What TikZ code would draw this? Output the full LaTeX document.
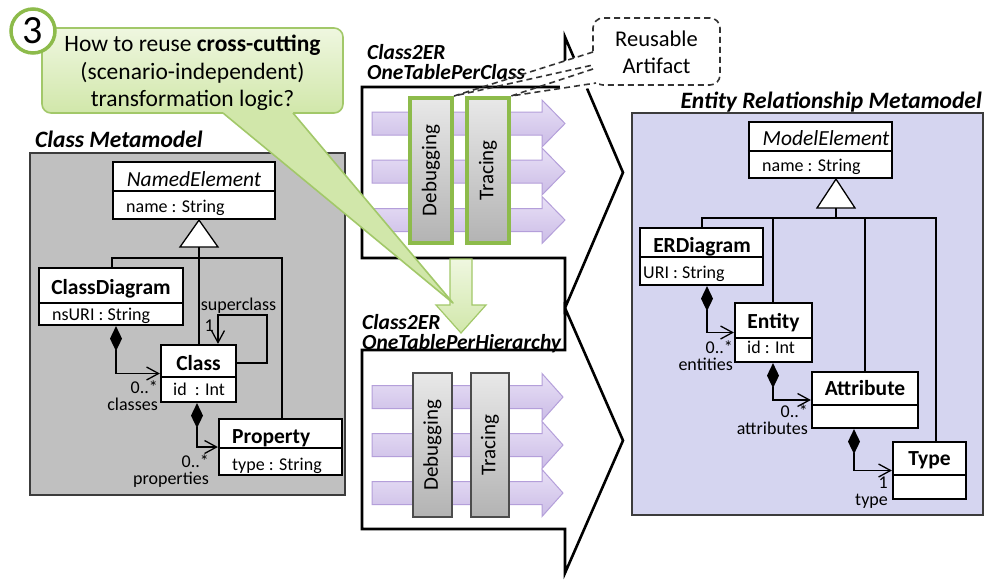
\documentclass[tikz,border=0pt]{standalone}
\usepackage{fontspec}
\setmainfont{Carlito}
\usetikzlibrary{arrows.meta,fit,calc}
\definecolor{panelgray}{HTML}{C0C0C0}
\definecolor{panellav}{HTML}{D5D5F0}
\definecolor{purtop}{HTML}{E8E0F6}
\definecolor{purbot}{HTML}{CBBCE6}
\definecolor{purdraw}{HTML}{B49FDA}
\definecolor{grnborder}{HTML}{8DBB4B}
\definecolor{grntop}{HTML}{EFF7E0}
\definecolor{grnbot}{HTML}{D1E7AA}
\definecolor{grnline}{HTML}{A2C869}
\definecolor{graytop}{HTML}{E8E8E8}
\definecolor{graybot}{HTML}{B3B3B3}
\definecolor{paneldraw}{HTML}{3C3C3C}
\newcommand\purparrow[2]{%
  \draw[purarrow] (372,#1-11.5) -- (542,#1-11.5) -- (542,#1-23.5) -- (#2,#1)
    -- (542,#1+23.5) -- (542,#1+11.5) -- (372,#1+11.5) -- cycle;}
\newcommand\twoR[3]{\fontsize{18}{#1}\selectfont\begin{tabular}[b]{@{}r@{}}#2\\#3\end{tabular}}
\newcommand\twoL[3]{\fontsize{21.5}{#1}\selectfont\begin{tabular}[b]{@{}l@{}}#2\\#3\end{tabular}}
\begin{document}
\begin{tikzpicture}[x=1pt,y=-1pt,
  panel/.style={draw=paneldraw,line width=2.2pt,inner sep=0pt},
  umlbox/.style={draw=black,line width=2.2pt,fill=white,inner sep=0pt},
  divline/.style={line width=2pt},
  ttl/.style={font=\fontsize{23.5}{26}\selectfont\bfseries\itshape,inner sep=0pt},
  cname/.style={font=\fontsize{21.5}{24}\selectfont\bfseries,inner sep=0pt,anchor=base},
  iname/.style={font=\fontsize{21.5}{24}\selectfont\itshape,inner sep=0pt,anchor=base},
  cattr/.style={font=\fontsize{18}{20}\selectfont,inner sep=0pt,anchor=base west},
  mult/.style={font=\fontsize{18}{20}\selectfont,inner sep=0pt,anchor=base east},
  tlabel/.style={font=\bfseries\itshape,inner sep=0pt,anchor=base west},
  vtext/.style={font=\fontsize{21}{22}\selectfont,rotate=90,inner sep=0pt},
  qtext/.style={font=\fontsize{23.5}{27}\selectfont,inner sep=0pt,anchor=base},
  ratext/.style={font=\fontsize{22.5}{26}\selectfont,inner sep=0pt,anchor=base},
  assoc/.style={line width=1.3pt},
  comp/.style={line width=1.3pt,arrows={Diamond[length=25pt,width=12pt]-Straight Barb[length=12pt,width=13pt]}},
  bigarrow/.style={draw=black,line width=2.6pt,fill=white},
  purarrow/.style={draw=purdraw,line width=1pt,top color=purtop,bottom color=purbot},
  dbgU/.style={draw=grnborder,line width=4pt,top color=graytop,bottom color=graybot,inner sep=0pt},
  dbgL/.style={draw=black!70,line width=1.2pt,top color=graytop,bottom color=graybot,inner sep=0pt},
  dashln/.style={draw=black!80,line width=1.6pt,dash pattern=on 6pt off 4pt}
]
\useasboundingbox (0,0) rectangle (987,582);
\fill[white] (0,0) rectangle (987,582);

% ---------- Class Metamodel ----------
\node[panel,fill=panelgray,fit={(30,153) (345,495)}] (cmp) {};
\node[ttl,anchor=base west] (cmpT) at (35,147) {Class Metamodel};

\node[umlbox,fit={(113,162) (275,219)}] (ne) {};
\draw[divline] (ne.west |- 0,191) -- (ne.east |- 0,191);
\node[iname] (neN) at (194,186) {NamedElement};
\node[cattr] (neA) at (126,212) {name : String};

\node[umlbox,fit={(39,268) (183,325)}] (cd) {};
\draw[divline] (cd.west |- 0,303) -- (cd.east |- 0,303);
\node[cname] (cdN) at (111,294) {ClassDiagram};
\node[cattr] (cdA) at (52,320) {nsURI : String};

\node[umlbox,fit={(161,345) (236,402)}] (cls) {};
\draw[divline] (cls.west |- 0,377) -- (cls.east |- 0,377);
\node[cname] (clsN) at (198.5,370) {Class};
\node[cattr] (clsA) at (173,395) {id~ : Int};

\node[umlbox,fit={(219,419) (342,475)}] (pr) {};
\draw[divline] (pr.west |- 0,448) -- (pr.east |- 0,448);
\node[cname,anchor=base west] (prN) at (232,443) {Property};
\node[cattr] (prA) at (232,470) {type : String};

% generalization
\draw[assoc,fill=white] (199,0 |- ne.south) -- (218,247) -- (180,247) -- cycle;
\coordinate (gC) at (199,247);
\draw[assoc] (gC) -- (199,0 |- cls.north);
\draw[assoc] (112,0 |- cd.north) |- (282,258) -- (282,0 |- pr.north);
% superclass loop
\draw[assoc,arrows={-Straight Barb[length=12pt,width=13pt]}]
  (cls.east |- 0,363) -- (267,363) -- (267,315) -- (218,315) -- (218,0 |- cls.north);
\node[mult,anchor=base] (scL) at (238.5,310) {superclass};
\node[mult] (sc1) at (214,331) {1};
% compositions
\draw[comp] (116,0 |- cd.south) |- (cls.west);
\node[mult] (m1) at (158,410) {\twoR{14}{0..*}{classes}};
\draw[comp] (197,0 |- cls.south) |- (pr.west);
\node[mult] (m2) at (209,484) {\twoR{15}{0..*}{properties}};

% ---------- ER Metamodel ----------
\node[panel,fill=panellav,fit={(632,113) (983,515)}] (erp) {};
\node[ttl,anchor=base east] (erpT) at (982,108) {Entity Relationship Metamodel};

\node[umlbox,fit={(749,122) (892,178)}] (me) {};
\draw[divline] (me.west |- 0,151) -- (me.east |- 0,151);
\node[iname] (meN) at (826,145) {ModelElement};
\node[cattr] (meA) at (762,171) {name : String};

\node[umlbox,fit={(640,228) (763,285)}] (erd) {};
\draw[divline] (erd.west |- 0,257) -- (erd.east |- 0,257);
\node[cname] (erdN) at (702,252) {ERDiagram};
\node[cattr] (erdA) at (643,278) {URI : String};

\node[umlbox,fit={(735,303) (812,362)}] (en) {};
\draw[divline] (en.west |- 0,338) -- (en.east |- 0,338);
\node[cname] (enN) at (773.5,328) {Entity};
\node[cattr] (enA) at (747,353) {id : Int};

\node[umlbox,fit={(812,372) (918,428)}] (at) {};
\draw[divline] (at.west |- 0,405) -- (at.east |- 0,405);
\node[cname] (atN) at (865,395) {Attribute};

\node[umlbox,fit={(893,442) (966,499)}] (ty) {};
\draw[divline] (ty.west |- 0,475) -- (ty.east |- 0,475);
\node[cname] (tyN) at (929.5,465) {Type};

% generalization
\draw[assoc,fill=white] (836,0 |- me.south) -- (855,208) -- (817,208) -- cycle;
\coordinate (gE) at (836,208);
\draw[assoc] (gE) -- (836,218);
\draw[assoc] (702,0 |- erd.north) |- (936,218) -- (936,0 |- ty.north);
\draw[assoc] (773,218) -- (773,0 |- en.north);
\draw[assoc] (865,218) -- (865,0 |- at.north);
% compositions
\draw[comp] (707,0 |- erd.south) |- (en.west);
\node[mult] (m3) at (733,370) {\twoR{15}{0..*}{entities}};
\draw[comp] (773,0 |- en.south) |- (at.west);
\node[mult] (m4) at (808,434) {\twoR{15}{0..*}{attributes}};
\draw[comp] (854,0 |- at.south) |- (ty.west);
\node[mult] (m5) at (888,505) {\twoR{15.5}{1}{type}};

% ---------- transformations ----------
\draw[bigarrow] (362,87) -- (565,87) -- (565,37) -- (623,172.5) -- (565,308)
  -- (565,258) -- (362,258) -- cycle;
\draw[bigarrow] (362,350) -- (565,350) -- (565,308) -- (623,440.5) -- (565,573)
  -- (565,529) -- (362,529) -- cycle;
\node[tlabel] (t1) at (367,79.5) {\twoL{17}{Class2ER}{OneTablePerClass}};
\node[tlabel] (t2) at (362,349) {\twoL{15}{Class2ER}{OneTablePerHierarchy}};

\purparrow{123.5}{565}
\purparrow{171.5}{565}
\purparrow{220}{565}
\purparrow{397}{563}
\purparrow{445}{563}
\purparrow{493}{563}

\node[dbgU,fit={(410,98) (452,243)}] (dbg1) {};
\node[vtext] (dbg1T) at (dbg1.center) {Debugging};
\node[dbgU,fit={(467,98) (509,243)}] (tr1) {};
\node[vtext] (tr1T) at (tr1.center) {Tracing};
\node[dbgL,fit={(413,373) (452,517)}] (dbg2) {};
\node[vtext] (dbg2T) at (dbg2.center) {Debugging};
\node[dbgL,fit={(471,373) (509,517)}] (tr2) {};
\node[vtext] (tr2T) at (tr2.center) {Tracing};

% green down arrow
\draw[draw=grnline,line width=1.2pt,top color=grntop,bottom color=grnbot]
  (450,259) -- (472,259) -- (472,305) -- (486,305) -- (461,333) -- (436,305)
  -- (450,305) -- cycle;

% ---------- callout ----------
\node[draw=grnline,line width=1.6pt,top color=grntop,bottom color=grnbot,
  rounded corners=9pt,inner sep=0pt,fit={(42,28) (343,113)}] (co) {};
\fill[grnbot] (223,110) -- (223,113) -- (453,303) -- (293,113) -- (293,110) -- cycle;
\draw[draw=grnline,line width=1.6pt,line join=round] (223,113) -- (453,303) -- (293,113);
\node[qtext] (q1) at (192.5,51) {How to reuse \textbf{cross-cutting}};
\node[qtext] (q2) at (192.5,79) {(scenario-independent)};
\node[qtext] (q3) at (192.5,106) {transformation logic?};
\node[circle,draw=grnborder,line width=3.5pt,fill=white,minimum size=44pt,inner sep=0pt,
  font=\fontsize{40}{40}\selectfont] (three) at (33,31) {3};

% ---------- reusable artifact ----------
\node[dashln,fill=white,rounded corners=10pt,inner sep=0pt,fit={(593,18) (720,85)}] (ra) {};
\node[ratext] (raT1) at (656.5,46) {Reusable};
\node[ratext] (raT2) at (656.5,73) {Artifact};
\fill[white] (598,50) -- (560,62.5) -- (560,94.2) -- (599,86) -- cycle;
\draw[dashln] (593,52) -- (dbg1.north east) -- (593,65);
\draw[dashln] (593,69) -- (tr1.north east) -- (596,83);
\end{tikzpicture}
\end{document}
